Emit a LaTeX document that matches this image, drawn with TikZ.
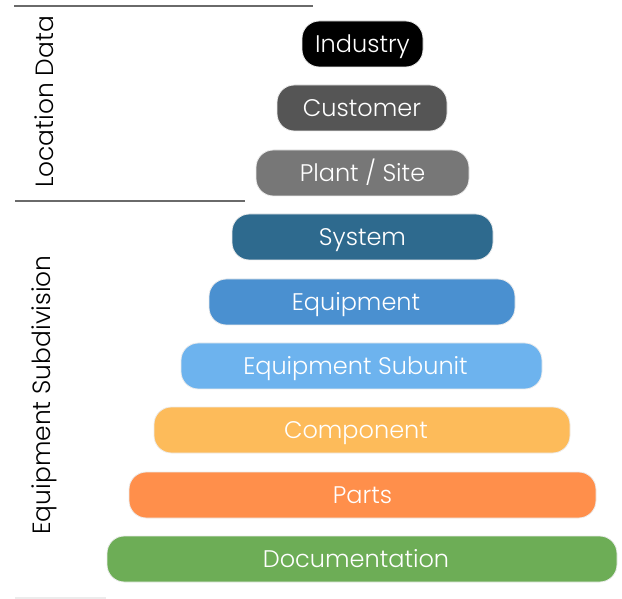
\documentclass[tikz,border=0pt]{standalone}
\usepackage{fontspec}
\setmainfont{Poppins Light}
\definecolor{cInd}{HTML}{000000}
\definecolor{cCus}{HTML}{555555}
\definecolor{cPla}{HTML}{777777}
\definecolor{cSys}{HTML}{2E6A8E}
\definecolor{cEqu}{HTML}{4A90D0}
\definecolor{cSub}{HTML}{6DB3EE}
\definecolor{cCom}{HTML}{FDBB5A}
\definecolor{cPar}{HTML}{FF8F4B}
\definecolor{cDoc}{HTML}{6DAD56}
\definecolor{cLine}{HTML}{6A6A6A}
\tikzset{
  layer/.style={draw=white!85!gray, line width=0.6pt, rounded corners=13pt},
  layertext/.style={text=white, font=\fontsize{18}{21}\selectfont, inner sep=0pt, anchor=base},
  sidelabel/.style={rotate=90, text=black, font=\fontsize{18.7}{22}\selectfont, inner sep=0pt},
  sep/.style={draw=cLine, line width=1.5pt}
}
\begin{document}
\begin{tikzpicture}[x=0.75pt,y=-0.75pt]
\useasboundingbox (0,0) rectangle (622,599);
% #7 = horizontal shift of the text
\newcommand\layerbox[7]{%
  \path[layer, fill=#5] (#2,#3) rectangle (#4,#3+46);
  \node[layertext] (#1) at ({(#2+#4)/2+#7},#3+31.5) {#6};
}
\layerbox{ind}{302}{21}{423}{cInd}{Industry}{0}
\layerbox{cus}{277}{85}{447}{cCus}{Customer}{0}
\layerbox{pla}{256}{150}{469}{cPla}{Plant / Site}{0}
\layerbox{sys}{232}{214}{493}{cSys}{System}{0}
\layerbox{equ}{209}{279}{515}{cEqu}{Equipment}{-6}
\layerbox{sub}{181}{343}{542}{cSub}{Equipment Subunit}{-6}
\layerbox{com}{154}{407}{570}{cCom}{Component}{-6}
\layerbox{par}{129}{472}{596}{cPar}{Parts}{0}
\layerbox{doc}{107}{536}{617}{cDoc}{Documentation}{-6}
\coordinate (t1) at (14,6);  \coordinate (t2) at (313,6);
\coordinate (m1) at (15,201); \coordinate (m2) at (245,201);
\coordinate (b1) at (15,598); \coordinate (b2) at (106,598);
\draw[sep] (t1) -- (t2);
\draw[sep] (m1) -- (m2);
\draw[draw=white!85!gray, line width=0.8pt] (b1) -- (b2);
\node[sidelabel] (loc) at (44,102) {Location Data};
\node[sidelabel] (esd) at (44,395) {Equipment Subdivision};
\end{tikzpicture}
\end{document}
